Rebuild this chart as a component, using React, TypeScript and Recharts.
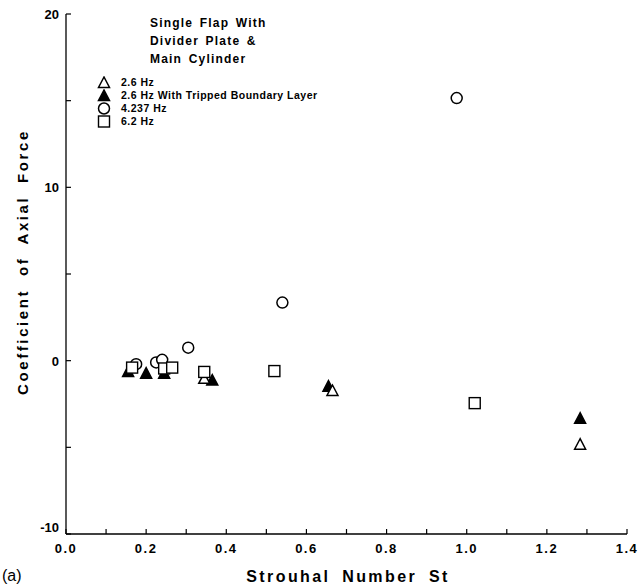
import { ScatterChart, Scatter, XAxis, YAxis } from "recharts";

// Strouhal number (x) and coefficient of axial force (y) for each run
const openTriSt = [0.345, 0.665, 1.283];
const openTriCa = [-1.05, -1.75, -4.85];

const filledTriSt = [0.155, 0.2, 0.245, 0.365, 0.655, 1.283];
const filledTriCa = [-0.65, -0.75, -0.75, -1.15, -1.5, -3.35];

const circleSt = [0.175, 0.225, 0.24, 0.305, 0.54, 0.975];
const circleCa = [-0.2, -0.1, 0.05, 0.75, 3.35, 15.15];

const squareSt = [0.165, 0.245, 0.265, 0.345, 0.52, 1.02];
const squareCa = [-0.4, -0.45, -0.4, -0.65, -0.6, -2.45];

const xTicks = [0, 0.1, 0.2, 0.3, 0.4, 0.5, 0.6, 0.7, 0.8, 0.9, 1.0, 1.1, 1.2, 1.3, 1.4];
const yTicks = [-10, -5, 0, 5, 10, 15, 20];

const titleLines = ["Single Flap With", "Divider Plate &", "Main Cylinder"];
const legendNames = ["2.6 Hz", "2.6 Hz With Tripped Boundary Layer", "4.237 Hz", "6.2 Hz"];

const FONT = '"Liberation Sans", Arial, sans-serif';

const zip = (xs: number[], ys: number[]) => xs.map((st, i) => ({ st, ca: ys[i] }));

const openTri = zip(openTriSt, openTriCa);
const filledTri = zip(filledTriSt, filledTriCa);
const circles = zip(circleSt, circleCa);
const squares = zip(squareSt, squareCa);

function Tri({ cx, cy, filled }: any) {
  const pts = `${cx},${cy - 6} ${cx - 5.5},${cy + 4.5} ${cx + 5.5},${cy + 4.5}`;
  return <polygon points={pts} fill={filled ? "#000" : "#fff"} stroke="#000" strokeWidth={1.5} />;
}

function Circ({ cx, cy }: any) {
  return <circle cx={cx} cy={cy} r={5.5} fill="#fff" stroke="#000" strokeWidth={1.5} />;
}

function Sq({ cx, cy }: any) {
  return <rect x={cx - 5.5} y={cy - 5.5} width={11} height={11} fill="#fff" stroke="#000" strokeWidth={1.4} />;
}

function XTick({ x, y, payload }: any) {
  const v = payload.value;
  const showLabel = Math.round(v * 10) % 2 === 0;
  return (
    <g>
      <line x1={x} y1={y} x2={x} y2={y - 5} stroke="#000" strokeWidth={1.2} />
      {showLabel && (
        <text x={x} y={y + 19} textAnchor="middle" fontFamily={FONT} fontWeight="bold" fontSize={13} letterSpacing={1.5}>
          {v.toFixed(1)}
        </text>
      )}
    </g>
  );
}

function YTick({ x, y, payload }: any) {
  const v = payload.value;
  const showLabel = v % 10 === 0;
  return (
    <g>
      <line x1={x} y1={y} x2={x + 5} y2={y} stroke="#000" strokeWidth={1.2} />
      {showLabel && (
        <text x={x - 7} y={v === -10 ? y - 2 : y + 5} textAnchor="end" fontFamily={FONT} fontWeight="bold" fontSize={13}>
          {v}
        </text>
      )}
    </g>
  );
}

function LegendIcon({ i }: { i: number }) {
  return (
    <svg width={14} height={13} style={{ position: "absolute", left: 97, top: 0 }}>
      {i === 0 && <Tri cx={7} cy={7} filled={false} />}
      {i === 1 && <Tri cx={7} cy={7} filled />}
      {i === 2 && <Circ cx={7} cy={6.5} />}
      {i === 3 && <Sq cx={7} cy={6.5} />}
    </svg>
  );
}

export default function App() {
  return (
    <div style={{ position: "relative", width: 640, height: 588, background: "#fff", fontFamily: FONT }}>
      <style>{"body{margin:0}"}</style>
      <ScatterChart width={640} height={588} margin={{ top: 14, right: 13, bottom: 44, left: 56 }}>
        <XAxis
          type="number"
          dataKey="st"
          domain={[0, 1.4]}
          ticks={xTicks}
          interval={0}
          height={10}
          tickSize={0}
          tickMargin={0}
          tickLine={false}
          tick={<XTick />}
          axisLine={{ stroke: "#000", strokeWidth: 1.3 }}
        />
        <YAxis
          type="number"
          dataKey="ca"
          domain={[-10, 20]}
          ticks={yTicks}
          interval={0}
          width={10}
          tickSize={0}
          tickMargin={0}
          tickLine={false}
          tick={<YTick />}
          axisLine={{ stroke: "#000", strokeWidth: 1.3 }}
        />
        <Scatter data={circles} isAnimationActive={false} shape={(p: any) => <Circ cx={p.cx} cy={p.cy} />} />
        <Scatter data={filledTri} isAnimationActive={false} shape={(p: any) => <Tri cx={p.cx} cy={p.cy} filled />} />
        <Scatter data={openTri} isAnimationActive={false} shape={(p: any) => <Tri cx={p.cx} cy={p.cy} filled={false} />} />
        <Scatter data={squares} isAnimationActive={false} shape={(p: any) => <Sq cx={p.cx} cy={p.cy} />} />
      </ScatterChart>

      {titleLines.map((t, i) => (
        <div
          key={t}
          style={{ position: "absolute", left: 150, top: 16 + i * 18, fontSize: 12, fontWeight: "bold", letterSpacing: 1.2, wordSpacing: 2, whiteSpace: "nowrap" }}
        >
          {t}
        </div>
      ))}

      {legendNames.map((t, i) => (
        <div key={t} style={{ position: "absolute", left: 0, top: 76 + i * 13, height: 13, width: 400 }}>
          <LegendIcon i={i} />
          <span style={{ position: "absolute", left: 121, top: 0, fontSize: 10.5, fontWeight: "bold", letterSpacing: 0.5, whiteSpace: "nowrap", lineHeight: "13px" }}>
            {t}
          </span>
        </div>
      ))}

      <div
        style={{
          position: "absolute",
          left: 22,
          top: 262,
          transform: "translate(-50%, -50%) rotate(-90deg)",
          fontSize: 15,
          fontWeight: "bold",
          letterSpacing: 2.6,
          wordSpacing: 6,
          whiteSpace: "nowrap",
        }}
      >
        Coefficient of Axial Force
      </div>

      <div
        style={{
          position: "absolute",
          left: 348,
          top: 577,
          transform: "translate(-50%, -50%)",
          fontSize: 16,
          fontWeight: "bold",
          letterSpacing: 2.4,
          wordSpacing: 5,
          whiteSpace: "nowrap",
        }}
      >
        Strouhal Number St
      </div>

      <div style={{ position: "absolute", left: 2, top: 567, fontSize: 16 }}>(a)</div>
    </div>
  );
}
